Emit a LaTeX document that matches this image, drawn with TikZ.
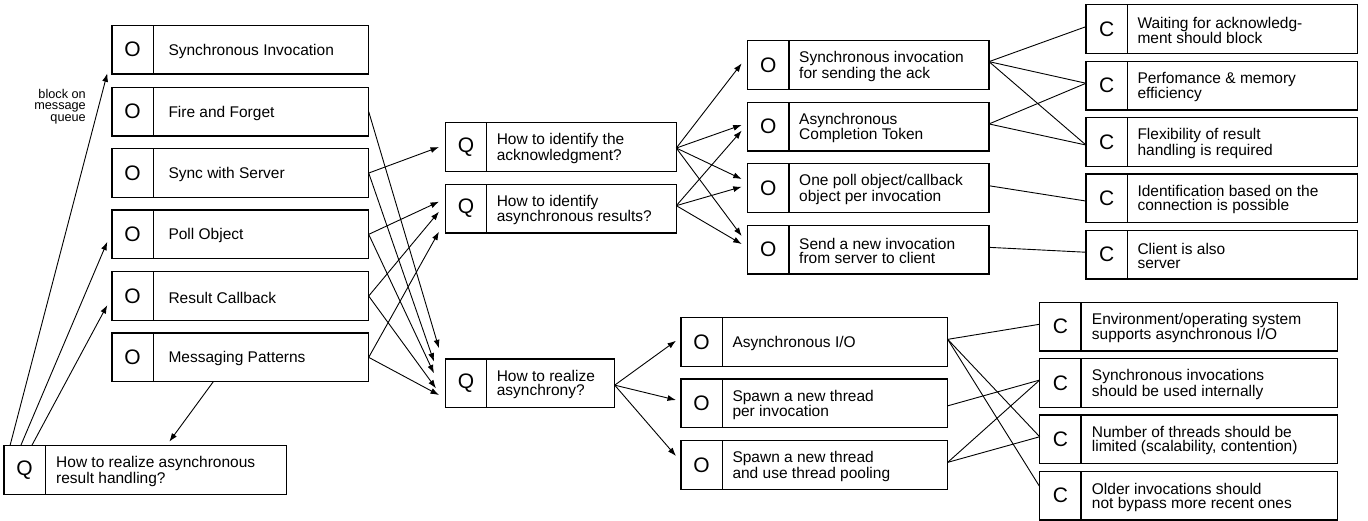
\documentclass[tikz,border=0pt]{standalone}
\usepackage{fontspec}
\setmainfont{Liberation Sans}
\usetikzlibrary{arrows.meta,calc}

\tikzset{
  box/.style={draw, line width=1.2pt, rectangle, inner sep=0pt, outer sep=0pt,
    minimum height=48.7pt, anchor=north west},
  tag/.style={draw, line width=1.2pt, rectangle, inner sep=0pt, outer sep=0pt,
    minimum width=41.3pt, minimum height=48.7pt, anchor=north west,
    font=\fontsize{21}{21}\selectfont},
  lbl/.style={anchor=west, align=left, inner sep=0pt, yshift=-1.5pt,
    font=\fontsize{15.5}{14}\selectfont},
  note/.style={anchor=east, align=right, inner sep=0pt,
    font=\fontsize{12.7}{11.5}\selectfont},
  arr/.style={-{Latex[length=8.5pt,width=6pt]}, line width=0.9pt},
  link/.style={line width=0.9pt},
}

% \patbox{name}{letter}{x}{y}{width}{text gap}{text}
\newcommand\patbox[7]{%
  \node[box, minimum width=#5pt] (#1) at (#3,#4) {};
  \node[tag] (#1-tag) at (#1.north west) {#2};
  \node[lbl] (#1-txt) at ([xshift=#6pt]#1-tag.east) {#7};
}

\begin{document}
\begin{tikzpicture}[x=1pt, y=-1pt]
\useasboundingbox (0,0) rectangle (1368,521);

% options of the first column
\patbox{si}{O}{112}{25.3}{256.7}{15}{Synchronous Invocation}
\patbox{ff}{O}{112}{87.3}{256.7}{15}{Fire and Forget}
\patbox{ss}{O}{112}{148.7}{256.7}{15}{Sync with Server}
\patbox{po}{O}{112}{210}{256.7}{15}{Poll Object}
\patbox{rc}{O}{112}{271.7}{256.7}{15}{Result Callback}
\patbox{mp}{O}{112}{333}{256.7}{15}{Messaging Patterns}

% root question
\patbox{qa}{Q}{4}{445.7}{282.3}{10.7}{How to realize asynchronous\\result handling?}

% follow-up questions
\patbox{qb}{Q}{445.3}{122.7}{231}{10}{How to identify the\\acknowledgment?}
\patbox{qc}{Q}{445.3}{184.3}{231}{10}{How to identify\\asynchronous results?}
\patbox{qd}{Q}{445.3}{359}{169.4}{10}{How to realize\\asynchrony?}

% options for identification
\patbox{oa}{O}{747.7}{40.7}{241.3}{10}{Synchronous invocation\\for sending the ack}
\patbox{ob}{O}{747.7}{102.3}{241.3}{10}{Asynchronous\\Completion Token}
\patbox{oc}{O}{747.7}{163.7}{241.3}{10}{One poll object/callback\\object per invocation}
\patbox{od}{O}{747.7}{225.3}{241.3}{10}{Send a new invocation\\from server to client}

% options for asynchrony
\patbox{oe}{O}{681}{317.7}{266.7}{10}{Asynchronous I/O}
\patbox{of}{O}{681}{379}{266.7}{10}{Spawn a new thread\\per invocation}
\patbox{og}{O}{681}{440.7}{266.7}{10}{Spawn a new thread\\and use thread pooling}

% consequences, upper group
\patbox{ca}{C}{1086}{4.7}{271.7}{10}{Waiting for acknowledg-\\ment should block}
\patbox{cb}{C}{1086}{61.3}{271.7}{10}{Perfomance \& memory\\efficiency}
\patbox{cc}{C}{1086}{117.7}{271.7}{10}{Flexibility of result\\handling is required}
\patbox{cd}{C}{1086}{174}{271.7}{10}{Identification based on the\\connection is possible}
\patbox{ce}{C}{1086}{230.3}{271.7}{10}{Client is also\\server}

% consequences, lower group
\patbox{cf}{C}{1039.7}{302.3}{297.6}{10.7}{Environment/operating system\\supports asynchronous I/O}
\patbox{cg}{C}{1039.7}{358.7}{297.6}{10.7}{Synchronous invocations\\should be used internally}
\patbox{ch}{C}{1039.7}{415}{297.6}{10.7}{Number of threads should be\\limited (scalability, contention)}
\patbox{ci}{C}{1039.7}{471.3}{297.6}{10.7}{Older invocations should\\not bypass more recent ones}

\node[note] (blk) at (86,106.5) {block on\\message\\queue};

% root question to first options
\draw[arr] ($(qa.north west)+(6,0)$) -- ($(si.south west)+(-4.7,-0.7)$);
\draw[arr] ($(qa.north west)+(16.7,0)$) -- ($(po.west)+(-4.7,7.4)$);
\draw[arr] ($(qa.north west)+(27.7,0)$) -- ($(rc.west)+(-4.7,9)$);
\draw[arr] ($(mp.south west)+(101.3,0)$) -- ($(qa.north west)+(165.3,-4)$);

% first options to follow-up questions
\draw[arr] (ss.east) -- ($(qb.west)+(-6.3,0)$);
\draw[arr] (po.east) -- ($(qc.west)+(-6.3,-7)$);
\draw[arr] (rc.east) -- ($(qc.west)+(-6.3,3)$);
\draw[arr] (mp.east) -- ($(qc.west)+(-6.3,23)$);
\draw[arr] (ff.east) -- ($(qd.west)+(-6.3,-35)$);
\draw[arr] (ss.east) -- ($(qd.west)+(-11.3,-21.7)$);
\draw[arr] (po.east) -- ($(qd.west)+(-11.3,-10)$);
\draw[arr] (rc.east) -- ($(qd.west)+(-9.3,5)$);
\draw[arr] (mp.east) -- ($(qd.west)+(-6.3,11.7)$);

% identification questions to their options
\coordinate (qbo) at ($(qb.east)+(0,1)$);
\coordinate (qco) at ($(qc.east)+(0,-3)$);
\draw[arr] (qbo) -- ($(oa.west)+(-6,-1.7)$);
\draw[arr] (qbo) -- ($(ob.west)+(-6,-1.7)$);
\draw[arr] (qbo) -- ($(oc.west)+(-6,-9)$);
\draw[arr] (qbo) -- ($(od.west)+(-6,-13.6)$);
\draw[arr] (qco) -- ($(ob.west)+(-6,3.9)$);
\draw[arr] (qco) -- ($(oc.west)+(-6,-1.3)$);
\draw[arr] (qco) -- ($(od.west)+(-6,-5.6)$);

% asynchrony question to its options
\coordinate (qdo) at ($(qd.east)+(0,1.8)$);
\draw[arr] (qdo) -- ($(oe.west)+(-5,-1.3)$);
\draw[arr] (qdo) -- ($(of.west)+(-5,-3.3)$);
\draw[arr] (qdo) -- ($(og.west)+(-5,-9)$);

% options to consequences, upper group
\draw[link] ($(oa.east)+(0,-3.4)$) -- ($(ca.west)+(0,-2.4)$);
\draw[link] ($(oa.east)+(0,-3.4)$) -- ($(cb.west)+(0,-2.4)$);
\draw[link] ($(oa.east)+(0,-3.4)$) -- ($(cc.west)+(0,3)$);
\draw[link] ($(ob.east)+(0,-2.7)$) -- ($(cb.west)+(0,-2.4)$);
\draw[link] ($(ob.east)+(0,-2.7)$) -- ($(cc.west)+(0,3)$);
\draw[link] ($(oc.east)+(0,-2.3)$) -- ($(cd.west)+(0,2.7)$);
\draw[link] ($(od.east)+(0,-2.3)$) -- ($(ce.west)+(0,-2.4)$);

% options to consequences, lower group
\draw[link] ($(oe.east)+(0,-2.7)$) -- ($(cf.west)+(0,-2.4)$);
\draw[link] ($(oe.east)+(0,-2.7)$) -- ($(ch.west)+(0,-2.6)$);
\draw[link] ($(oe.east)+(0,-2.7)$) -- ($(ci.west)+(0,-9)$);
\draw[link] ($(of.east)+(0,2.5)$) -- ($(cg.west)+(0,-3)$);
\draw[link] ($(og.east)+(0,-2.7)$) -- ($(cg.west)+(0,-3)$);
\draw[link] ($(og.east)+(0,-2.7)$) -- ($(ch.west)+(0,-2.6)$);
\end{tikzpicture}
\end{document}
